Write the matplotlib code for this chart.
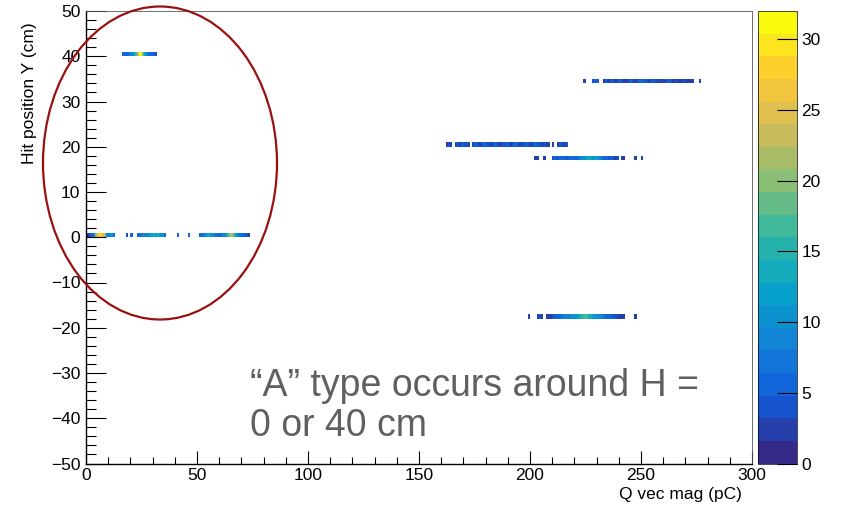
import numpy as np
import matplotlib
matplotlib.use("Agg")
import matplotlib.pyplot as plt
from matplotlib.colors import LinearSegmentedColormap, BoundaryNorm
from matplotlib.patches import Ellipse
from matplotlib.ticker import MultipleLocator

plt.rcParams['font.family'] = ['Liberation Sans', 'DejaVu Sans']

# Histogram binning: 1 pC x 1 cm
x_range = (0, 300)
y_range = (-50, 50)
n_xbins = 300
n_ybins = 100

# Occupied rows: hit position Y (bin centre), first Q bin, counts per 1 pC bin
row_y = [40.5, 34.5, 20.5, 17.5, 0.5, -17.5]
row_start = [16, 224, 162, 202, 0, 199]

counts_y40 = [5, 6, 5, 7, 9, 12, 16, 22, 32, 18, 12, 8, 6, 6, 5, 4]
counts_y34 = [3, 0, 0, 0, 4, 5, 4, 0, 0,
              3, 4, 3, 5, 4, 3, 4, 5, 4, 3, 2, 4, 5, 4, 3, 4, 5, 6, 5, 4,
              3, 4, 5, 4, 3, 4, 3, 2, 4, 5, 4, 3, 4, 3, 2, 3, 4, 3, 2, 3, 2,
              0, 0, 3]
counts_y20 = [3, 4, 3, 0, 4, 4, 3, 5, 4, 4, 3, 0,
              4, 5, 4, 3, 4, 5, 4, 4, 3, 4, 5, 4, 3, 4, 4, 5, 4, 3, 4, 5,
              4, 3, 4, 4, 5, 4, 3, 4, 5, 4, 4, 3, 4, 3, 3,
              0, 3, 0, 3, 4, 4, 3, 4]
counts_y17 = [2, 2, 0, 0, 2, 0, 0, 0,
              4, 5, 4, 5, 6, 5, 4, 5, 6, 7, 6, 7, 9, 10, 11, 12, 13, 12, 11,
              12, 10, 9, 7, 6, 5, 4, 5, 4, 3, 4,
              0, 3, 3, 0, 0, 0, 0, 3, 0, 0, 2]
counts_y0 = [2, 3, 6, 8, 20, 26, 28, 25, 22, 9, 8, 10, 7,
             0, 0, 0, 0, 0,
             4, 0, 5, 0, 0,
             6, 7, 8, 8, 9, 10, 12, 13, 12, 13, 11, 10, 6,
             0, 0, 0, 0, 0,
             5, 0, 0, 0, 0,
             5, 0, 0, 0, 0,
             6, 7, 9, 12, 13, 11, 8, 7, 7, 6, 8, 9, 14, 18, 21, 17, 12, 8, 7, 6, 5, 4,
             3]
counts_ym17 = [3, 0, 0, 0, 2, 4, 3, 0,
               2, 2, 3, 4, 5, 6, 6, 7, 8, 8, 9, 10, 10, 11, 12, 13, 15, 17,
               16, 14, 13, 12, 11, 10, 9, 8, 7, 6, 6, 5, 4, 4, 3, 3, 2, 3,
               0, 0, 0, 0, 3]
row_counts = [counts_y40, counts_y34, counts_y20, counts_y17, counts_y0, counts_ym17]

x_ticks = [0, 50, 100, 150, 200, 250, 300]
y_ticks = [-50, -40, -30, -20, -10, 0, 10, 20, 30, 40, 50]
z_ticks = [0, 5, 10, 15, 20, 25, 30]

# Fill the 2D histogram
xedges = np.linspace(*x_range, n_xbins + 1)
yedges = np.linspace(*y_range, n_ybins + 1)
H = np.zeros((n_ybins, n_xbins))
for yc, start, cnts in zip(row_y, row_start, row_counts):
    iy = np.searchsorted(yedges, yc) - 1
    H[iy, start:start + len(cnts)] = cnts
Hm = np.ma.masked_where(H <= 0, H)

# ROOT "kBird" palette, 20 contour levels
stops = np.linspace(0, 1, 9)
red = [0.2082, 0.0592, 0.0780, 0.0232, 0.1802, 0.5301, 0.8186, 0.9956, 0.9764]
green = [0.1664, 0.3599, 0.5041, 0.6419, 0.7178, 0.7492, 0.7328, 0.7862, 0.9832]
blue = [0.5293, 0.8684, 0.8385, 0.7914, 0.6425, 0.4662, 0.3499, 0.1968, 0.0539]
bird = LinearSegmentedColormap.from_list(
    "bird", [(s, (r, g, b)) for s, r, g, b in zip(stops, red, green, blue)], N=256)
zmax = H.max()
levels = np.linspace(0, zmax, 21)
norm = BoundaryNorm(levels, ncolors=256)

fig = plt.figure(figsize=(8.42, 5.05), dpi=100)
ax = fig.add_axes([86 / 842, 1 - 463.5 / 505, 666 / 842, 452.5 / 505])
mesh = ax.pcolormesh(xedges, yedges, Hm, cmap=bird, norm=norm)

ax.set_xlim(*x_range)
ax.set_ylim(*y_range)
ax.set_xticks(x_ticks)
ax.set_yticks(y_ticks)
ax.xaxis.set_minor_locator(MultipleLocator(10))
ax.yaxis.set_minor_locator(MultipleLocator(2))
ax.tick_params(axis='x', which='major', direction='in', length=9.7, width=0.8,
               labelsize=12.5, pad=3, top=False)
ax.tick_params(axis='x', which='minor', direction='in', length=4.9, width=0.8, top=False)
ax.tick_params(axis='y', which='major', direction='in', length=14.4, width=0.8,
               labelsize=12.5, pad=4, right=False)
ax.tick_params(axis='y', which='minor', direction='in', length=7.2, width=0.8, right=False)
for side in ['left', 'bottom']:
    ax.spines[side].set_linewidth(1.0)
for side in ['top', 'right']:
    ax.spines[side].set_linewidth(0.6)
    ax.spines[side].set_color('#555555')

fig.text(30 / 842, 1 - 22 / 505, "Hit position Y (cm)", rotation=90,
         ha='center', va='top', fontsize=12.5)
fig.text(742 / 842, 1 - 494 / 505, "Q vec mag (pC)", ha='right', va='center',
         fontsize=12.5)

# Palette axis
cax = fig.add_axes([758 / 842, 1 - 463.5 / 505, 39 / 842, 452.5 / 505])
cb = fig.colorbar(mesh, cax=cax, ticks=z_ticks)
cb.outline.set_linewidth(0.5)
cax.tick_params(direction='in', length=14.4, width=0.8, labelsize=12.5, pad=3)
cax.minorticks_off()

# Slide annotation
ell = Ellipse((160 / 842, 1 - 163 / 505), 234 / 842, 313 / 505,
              transform=fig.transFigure, fill=False, edgecolor='#9b1010', lw=1.6)
fig.add_artist(ell)
fig.text(250 / 842, 1 - 396 / 505, "\u201cA\u201d type occurs around H =",
         fontsize=27, color='#606060', va='baseline', ha='left')
fig.text(250 / 842, 1 - 436 / 505, "0 or 40 cm",
         fontsize=27, color='#606060', va='baseline', ha='left')

fig.savefig("out.png", dpi=100, facecolor='white')
